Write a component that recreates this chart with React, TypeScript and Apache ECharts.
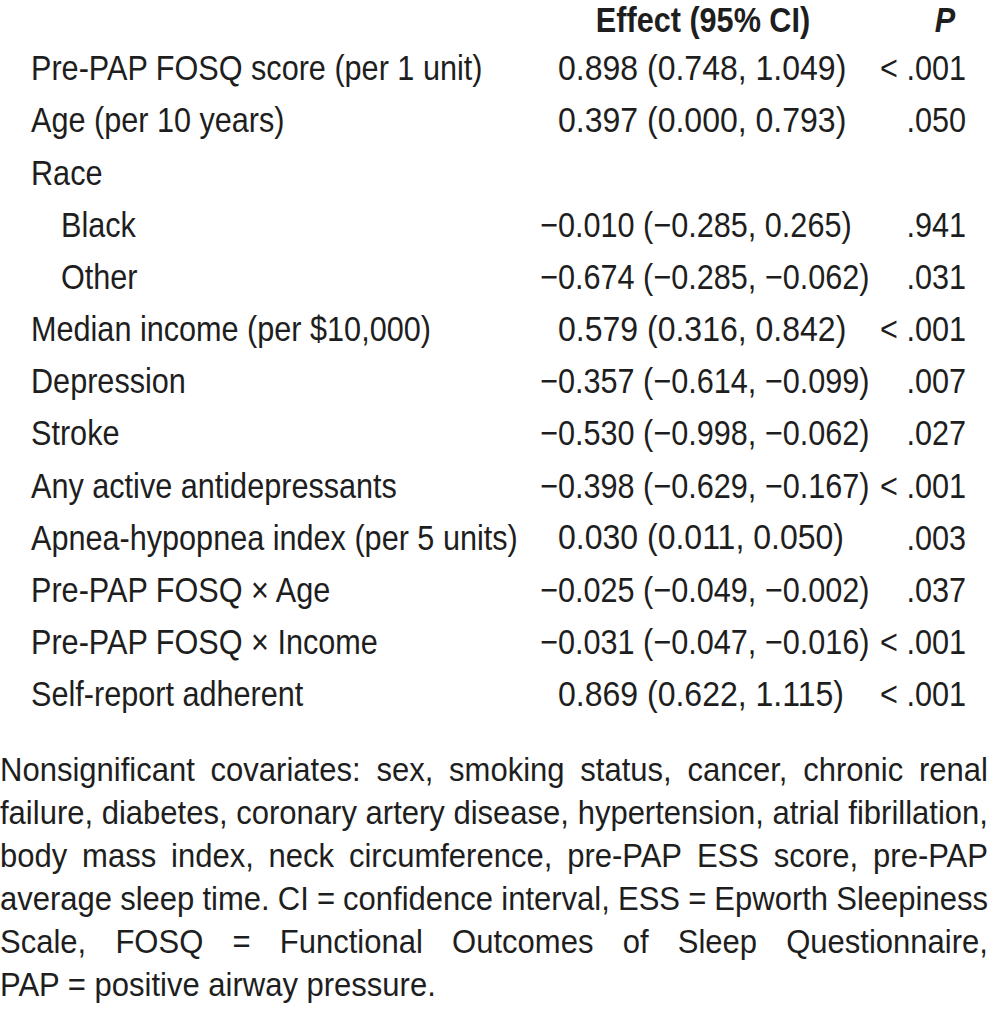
import React, { useEffect, useRef } from "react";
import * as echarts from "echarts";

const rowLabels = [
  "Pre-PAP FOSQ score (per 1 unit)",
  "Age (per 10 years)",
  "Race",
  "Black",
  "Other",
  "Median income (per $10,000)",
  "Depression",
  "Stroke",
  "Any active antidepressants",
  "Apnea-hypopnea index (per 5 units)",
  "Pre-PAP FOSQ × Age",
  "Pre-PAP FOSQ × Income",
  "Self-report adherent",
];
const rowIndent = [0, 0, 0, 1, 1, 0, 0, 0, 0, 0, 0, 0, 0];
const effectEst: (number | null)[] = [0.898, 0.397, null, -0.01, -0.674, 0.579, -0.357, -0.53, -0.398, 0.03, -0.025, -0.031, 0.869];
const effectLo: (number | null)[] = [0.748, 0.0, null, -0.285, -0.285, 0.316, -0.614, -0.998, -0.629, 0.011, -0.049, -0.047, 0.622];
const effectHi: (number | null)[] = [1.049, 0.793, null, 0.265, -0.062, 0.842, -0.099, -0.062, -0.167, 0.05, -0.002, -0.016, 1.115];
const pValues = ["< .001", ".050", "", ".941", ".031", "< .001", ".007", ".027", "< .001", ".003", ".037", "< .001", "< .001"];
const headerEffect = "Effect (95% CI)";
const headerP = "P";
const footnoteLines = [
  "Nonsignificant covariates: sex, smoking status, cancer, chronic renal",
  "failure, diabetes, coronary artery disease, hypertension, atrial fibrillation,",
  "body mass index, neck circumference, pre-PAP ESS score, pre-PAP",
  "average sleep time. CI = confidence interval, ESS = Epworth Sleepiness",
  "Scale, FOSQ = Functional Outcomes of Sleep Questionnaire,",
  "PAP = positive airway pressure.",
];

const FONT = '"Liberation Sans", Arial, sans-serif';
const COLOR = "#1e1e1e";
const TABLE_SIZE = 35;
const TABLE_SX = 0.875;
const POS_SX = 0.915;
const NOTE_SIZE = 33;
const NOTE_SX = 0.94;

function fmt(v: number) {
  const s = Math.abs(v).toFixed(3);
  return v < 0 ? "−" + s : s;
}

export default function App() {
  const ref = useRef<HTMLDivElement>(null);
  useEffect(() => {
    document.body.style.margin = "0";
    const chart = echarts.init(ref.current!, null, { renderer: "svg" });
    const canvas = document.createElement("canvas");
    const ctx = canvas.getContext("2d")!;
    const measure = (t: string, size: number, weight = "normal") => {
      ctx.font = `${weight} ${size}px ${FONT}`;
      return ctx.measureText(t).width;
    };

    const elements: any[] = [];
    const txt = (text: string, x: number, y: number, size: number, sx: number, align = "left", extra: any = {}) =>
      elements.push({
        type: "text",
        x,
        y,
        scaleX: sx,
        style: {
          text,
          fill: COLOR,
          font: `${extra.fontStyle || "normal"} ${extra.fontWeight || "normal"} ${size}px ${FONT}`,
          textAlign: align,
          textVerticalAlign: "middle",
        },
      });

    // header
    txt(headerEffect, 703, 20, TABLE_SIZE, TABLE_SX, "center", { fontWeight: "bold" });
    txt(headerP, 945, 20, TABLE_SIZE, TABLE_SX, "center", { fontWeight: "bold", fontStyle: "italic" });

    const y0 = 68;
    const step = (694 - 68) / 12;
    const estX = 558;
    rowLabels.forEach((lab, i) => {
      const y = y0 + i * step;
      txt(lab, rowIndent[i] ? 61 : 31, y, TABLE_SIZE, TABLE_SX);
      const e = effectEst[i];
      if (e !== null) {
        const lo = effectLo[i]!;
        const hi = effectHi[i]!;
        const allPos = e >= 0 && lo >= 0 && hi >= 0;
        const body = `${Math.abs(e).toFixed(3)} (${fmt(lo)}, ${fmt(hi)})`;
        txt(body, estX, y, TABLE_SIZE, allPos ? POS_SX : TABLE_SX);
        if (e < 0) txt("−", estX, y, TABLE_SIZE, TABLE_SX, "right");
      }
      if (pValues[i]) txt(pValues[i], 966, y, TABLE_SIZE, TABLE_SX, "right");
    });

    // footnote, justified
    const noteY0 = 770;
    const noteStep = (985 - 770) / 5;
    const L = 0;
    const R = 988;
    footnoteLines.forEach((line, i) => {
      const y = noteY0 + i * noteStep;
      if (i === footnoteLines.length - 1) {
        txt(line, L, y, NOTE_SIZE, NOTE_SX);
        return;
      }
      const words = line.split(" ");
      const widths = words.map((w) => measure(w, NOTE_SIZE) * NOTE_SX);
      const total = widths.reduce((a, b) => a + b, 0);
      const gap = (R - L - total) / (words.length - 1);
      let x = L;
      words.forEach((w, j) => {
        txt(w, x, y, NOTE_SIZE, NOTE_SX);
        x += widths[j] + gap;
      });
    });

    chart.setOption({
      animation: false,
      backgroundColor: "#ffffff",
      graphic: { elements },
    });
    return () => chart.dispose();
  }, []);
  return <div ref={ref} style={{ width: 989, height: 1009 }} />;
}
